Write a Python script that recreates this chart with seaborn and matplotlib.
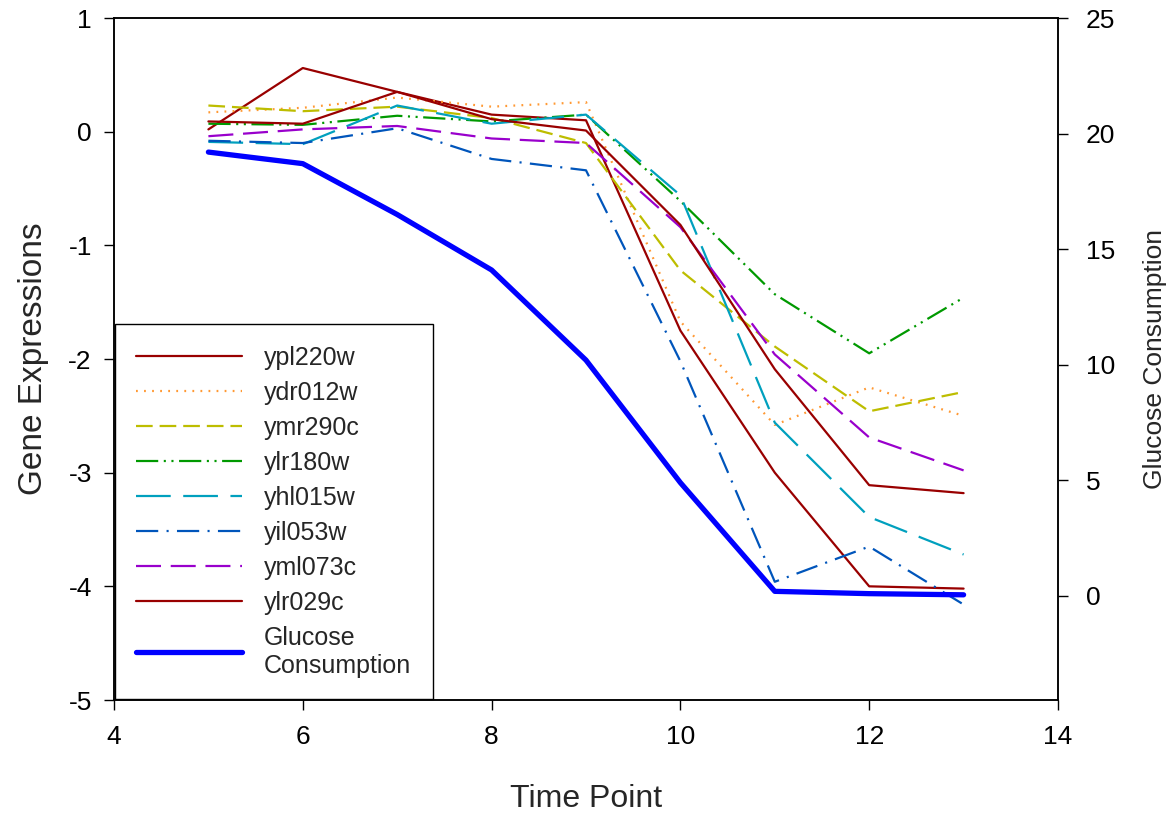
import matplotlib
matplotlib.use("Agg")
import matplotlib.pyplot as plt
import seaborn as sns
import pandas as pd
from matplotlib.lines import Line2D

# ---- data ----
time_point = [5, 6, 7, 8, 9, 10, 11, 12, 13]
ypl220w = [0.02, 0.56, 0.35, 0.15, 0.10, -1.75, -3.00, -4.00, -4.02]
ydr012w = [0.17, 0.21, 0.30, 0.22, 0.26, -1.67, -2.58, -2.25, -2.50]
ymr290c = [0.23, 0.18, 0.22, 0.12, -0.10, -1.22, -1.89, -2.46, -2.29]
ylr180w = [0.07, 0.06, 0.14, 0.09, 0.15, -0.61, -1.43, -1.95, -1.46]
yhl015w = [-0.09, -0.11, 0.23, 0.07, 0.15, -0.56, -2.56, -3.39, -3.72]
yil053w = [-0.08, -0.10, 0.03, -0.24, -0.34, -2.02, -3.96, -3.65, -4.16]
yml073c = [-0.04, 0.02, 0.05, -0.06, -0.10, -0.84, -1.96, -2.69, -2.98]
ylr029c = [0.09, 0.07, 0.35, 0.11, 0.01, -0.82, -2.09, -3.11, -3.18]
glucose = [19.2, 18.7, 16.5, 14.1, 10.2, 4.9, 0.2, 0.1, 0.05]

gene_names = ["ypl220w", "ydr012w", "ymr290c", "ylr180w", "yhl015w",
              "yil053w", "yml073c", "ylr029c"]
gene_values = [ypl220w, ydr012w, ymr290c, ylr180w, yhl015w,
               yil053w, yml073c, ylr029c]
colors = ["#990000", "#FF9933", "#BDBD00", "#009900", "#00A0BE",
          "#0055BB", "#9900CC", "#990000"]
styles = ["-", (0, (1.3, 4.5)), (0, (12, 5)), (0, (16, 4, 1.5, 4, 1.5, 4)),
          (0, (25, 9)), (0, (16, 6, 1.5, 6)), (0, (18, 7)), "-"]

sns.set_theme(style="ticks")
plt.rcParams["font.family"] = ["Liberation Sans", "DejaVu Sans"]
plt.rcParams["lines.scale_dashes"] = False
plt.rcParams["axes.unicode_minus"] = False

fig = plt.figure(figsize=(11.73, 8.13), dpi=100)
ax = fig.add_axes([114 / 1173, 1 - 700 / 813, (1058 - 114) / 1173, (700 - 18) / 813])
ax2 = ax.twinx()

handles = []
for name, vals, c, ls in zip(gene_names, gene_values, colors, styles):
    df = pd.DataFrame({"Time Point": time_point, "value": vals})
    sns.lineplot(data=df, x="Time Point", y="value", ax=ax, color=c,
                 linestyle=ls, linewidth=1.6, errorbar=None, legend=False)
    handles.append(Line2D([], [], color=c, linestyle=ls, linewidth=1.6, label=name))

gdf = pd.DataFrame({"Time Point": time_point, "Glucose": glucose})
sns.lineplot(data=gdf, x="Time Point", y="Glucose", ax=ax2, color="#0000FF",
             linewidth=3.8, errorbar=None, legend=False)
handles.append(Line2D([], [], color="#0000FF", linewidth=3.8,
                      label="Glucose\nConsumption"))

ax.set_xlim(4, 14)
ax.set_ylim(-5, 1)
ax2.set_ylim(-4.5, 25)
ax.set_xticks([4, 6, 8, 10, 12, 14])
ax.set_yticks([-5, -4, -3, -2, -1, 0, 1])
ax2.set_yticks([0, 5, 10, 15, 20, 25])

for a in (ax, ax2):
    for s in a.spines.values():
        s.set_color("black")
        s.set_linewidth(1.1)
    a.tick_params(direction="out", length=7, width=1.0, colors="black",
                  labelsize=19, pad=9)
ax.tick_params(axis="x", pad=11)
ax2.tick_params(axis="y", pad=13)

ax.set_xlabel("Time Point", fontsize=23, labelpad=25)
ax.set_ylabel("Gene Expressions", fontsize=24, labelpad=14)
ax2.set_ylabel("Glucose Consumption", fontsize=19, labelpad=20)

leg = ax2.legend(handles=handles, loc="lower left", bbox_to_anchor=(0.0, 0.0),
                 borderaxespad=0.05, fontsize=18, frameon=True, fancybox=False,
                 handlelength=4.2, handletextpad=0.9, labelspacing=0.44,
                 borderpad=0.85)
leg.get_frame().set_edgecolor("black")
leg.get_frame().set_linewidth(1.0)
leg.get_frame().set_alpha(1)

fig.savefig("out.png", dpi=100, facecolor="white")
